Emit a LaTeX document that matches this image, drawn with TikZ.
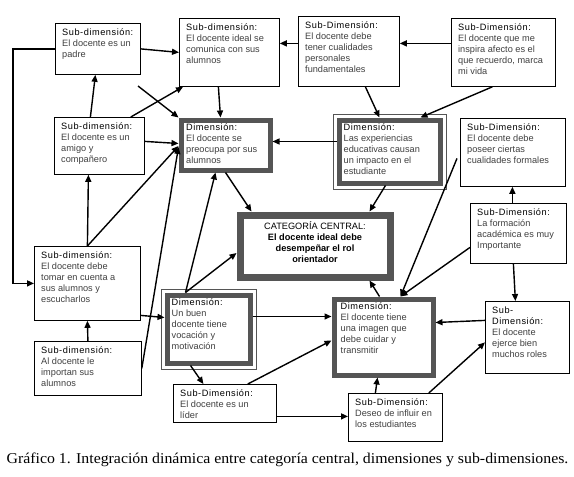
\documentclass[tikz,border=0pt]{standalone}
\usepackage{fontspec}
\setmainfont{Liberation Sans}
\newfontfamily\capfont{Liberation Serif}
\newfontfamily\ttlfont[LetterSpace=6]{Liberation Sans}
\usetikzlibrary{arrows.meta}
\definecolor{frame}{HTML}{555555}
\definecolor{bodyc}{HTML}{404040}
\tikzset{
 sub/.style={draw=black, line width=0.8pt, fill=white, inner sep=0pt},
 dimf/.style={draw=frame, line width=5pt, fill=white, inner sep=0pt},
 cen/.style={draw=frame, line width=7pt, fill=white, inner sep=0pt},
 txt/.style={anchor=north west, inner sep=0pt, align=left, font=\fontsize{9.2}{11}\selectfont, text=bodyc},
 arr/.style={-{Triangle[length=7pt,width=6pt]}, line width=1.4pt, black},
 thinframe/.style={draw=frame, line width=0.8pt},
}
% name, style, x1, y1, x2, y2, title, body, text x offset
\newcommand\tbox[9]{%
 \pgfmathsetmacro\bw{#5-#3}\pgfmathsetmacro\bh{#6-#4}%
 \node[#2, minimum width=\bw pt, minimum height=\bh pt, anchor=north west] (#1) at (#3,#4) {};
 \node[txt] (#1t) at ([shift={(#9pt,-6pt)}]#1.north west) {{\ttlfont\color{black}#7}\\#8};}
\begin{document}
\begin{tikzpicture}[x=1pt,y=-1pt]
\path[use as bounding box, fill=white] (0,0) rectangle (574,477);

\tbox{A}{sub}{55}{23}{140}{74}{Sub-dimensión:}{El docente es un\\padre}{7}
\tbox{B}{sub}{179}{18}{279}{86}{Sub-dimensión:}{El docente ideal se\\comunica con sus\\alumnos}{7}
\tbox{C}{sub}{298}{16}{399}{86}{Sub-Dimensión:}{El docente debe\\tener cualidades\\personales\\fundamentales}{7}
\tbox{D}{sub}{451}{18}{555}{86}{Sub-Dimensión:}{El docente que me\\inspira afecto es el\\que recuerdo, marca\\mi vida}{7}
\tbox{E}{sub}{54}{117}{144}{174}{Sub-dimensión:}{El docente es un\\amigo y\\compañero}{7}
\tbox{F}{dimf}{178.5}{117.5}{267.5}{167.5}{Dimensión:}{El docente se\\preocupa por sus\\alumnos}{7.5}
\tbox{G}{dimf}{336.5}{117.5}{437.5}{180.5}{Dimensión:}{Las experiencias\\educativas causan\\un impacto en el\\estudiante}{7}
\draw[thinframe] ([shift={(-3.6pt,3.6pt)}]G.north west) rectangle ([shift={(3.6pt,-3.6pt)}]G.south east);
\tbox{H}{sub}{460}{118}{565}{186}{Sub-Dimensión:}{El docente debe\\poseer ciertas\\cualidades formales}{7}
\tbox{I}{sub}{34}{246}{140}{320}{Sub-dimensión:}{El docente debe\\tomar en cuenta a\\sus alumnos y\\escucharlos}{7}
\tbox{J}{sub}{34}{341}{141}{395}{Sub-dimensión:}{Al docente le\\importan sus\\alumnos}{7}
\tbox{K}{dimf}{164.5}{292.5}{247.5}{360.5}{Dimensión:}{Un buen\\docente tiene\\vocación y\\motivación}{7}
\draw[thinframe] ([shift={(-3.6pt,3.6pt)}]K.north west) rectangle ([shift={(3.6pt,-3.6pt)}]K.south east);
\tbox{L}{sub}{173}{384}{276}{422}{Sub-Dimensión:}{El docente es un\\líder}{7}
\tbox{M}{dimf}{331.5}{296.5}{430.5}{372.5}{Dimensión:}{El docente tiene\\una imagen que\\debe cuidar y\\transmitir}{9}
\draw[thinframe] ([shift={(4pt,-4pt)}]M.north west) rectangle ([shift={(-4pt,4pt)}]M.south east);
\tbox{N}{sub}{470}{203}{566}{263}{Sub-Dimensión:}{La formación\\académica es muy\\Importante}{7}
\tbox{O}{sub}{485}{301}{569}{373}{Sub-}{{\ttlfont\color{black}Dimensión:}\\El docente\\ejerce bien\\muchos roles}{7}
\tbox{P}{sub}{348}{393}{442}{441}{Sub-Dimensión:}{Deseo de influir en\\los estudiantes}{7}

\pgfmathsetmacro\zw{386.5-236.5}\pgfmathsetmacro\zh{273.5-211.5}
\node[cen, minimum width=\zw pt, minimum height=\zh pt, anchor=north west] (Z) at (236.5,211.5) {};
\node[anchor=north, inner sep=0pt, align=center, font=\fontsize{9.2}{11}\selectfont, text=black] (Zt) at ([yshift=-10pt]Z.north)
 {CATEGORÍA CENTRAL:\\\textbf{El docente ideal debe}\\\textbf{desempeñar el rol}\\\textbf{orientador}};

\coordinate (a4) at (138,86);

\draw[arr] (A.east) -- (B.west);
\draw[arr] (A.west) -- ++(-42,0) |- (I.west);
\draw[arr] ([xshift=-9pt]E.north) -- ([xshift=-2.5pt]A.south);
\draw[arr] (a4) -- (F.north west);
\draw[arr] ([xshift=-14pt]E.north east) -- ([xshift=4pt]B.south west);
\draw[arr] ([xshift=-11pt]B.south) -- ([xshift=-5pt]F.north);
\draw[arr] ([yshift=4.5pt]E.east) -- ([yshift=1.5pt]F.west);
\draw[arr] ([yshift=10pt]G.west) -- ([yshift=3.5pt]F.east);
\draw[arr] ([yshift=8pt]C.west) -- ([yshift=9pt]B.east);
\draw[arr] ([yshift=9pt]D.west) -- ([yshift=8pt]C.east);
\draw[arr] ([xshift=16.5pt]C.south) -- ([xshift=-10pt]G.north);
\draw[arr] ([xshift=-11pt]D.south) -- ([xshift=31pt]G.north);
\draw[arr] (F.south) -- ([xshift=-63.5pt]Z.north);
\draw[arr] ([xshift=-4pt]G.south) -- ([xshift=54.5pt]Z.north);
\draw[arr] (I.north) -- ([yshift=-1pt]F.west);
\draw[arr] (I.north) -- ([xshift=-11pt]E.south);
\draw[arr] (J.east) -- ([yshift=-2pt]F.west);
\draw[arr] ([xshift=-23pt]K.north) -- ([xshift=-10pt]F.south);
\draw[arr] ([xshift=-23pt]K.north) -- ([yshift=-7pt]Z.west);
\draw[arr] ([yshift=-32pt]I.east) -- ([yshift=11.5pt]K.west);
\draw[arr] (J.north) -- (I.south);
\draw[arr] ([xshift=-18pt]K.south) -- ([xshift=-21.5pt]L.north);
\draw[arr] ([xshift=-29pt]L.north east) -- ([yshift=-3.5pt]M.west);
\draw[arr] ([yshift=12.5pt]K.east) -- ([yshift=20.5pt]M.west);
\draw[arr] ([yshift=-13pt]L.east) -- ([yshift=1pt]P.west);
\draw[arr] ([xshift=-20pt]P.north) -- ([xshift=-6pt]M.south);
\draw[arr] ([xshift=-14pt]P.north east) -- ([yshift=-5pt]O.west);
\draw[arr] ([yshift=17pt]O.west) -- ([yshift=14.5pt]M.east);
\draw[arr] ([xshift=-5pt]N.south) -- ([xshift=-12pt]O.north);
\draw[arr] ([xshift=-6pt]N.north) -- ([xshift=-0.5pt]H.south);
\draw[arr] ([yshift=-14pt]N.west) -- ([xshift=17pt]M.north);
\draw[arr] ([shift={(-3pt,-6pt)}]H.west) -- ([xshift=17pt]M.north);
\draw[arr] ([xshift=-4pt]M.north) -- ([xshift=54.5pt]Z.south);

\node[font=\capfont\fontsize{15}{17}\selectfont, inner sep=0pt] (cap) at (287.5,460) {\scalebox{1.056}[1]{Gráfico 1. Integración dinámica entre categoría central, dimensiones y sub-dimensiones.}};
\end{tikzpicture}
\end{document}
